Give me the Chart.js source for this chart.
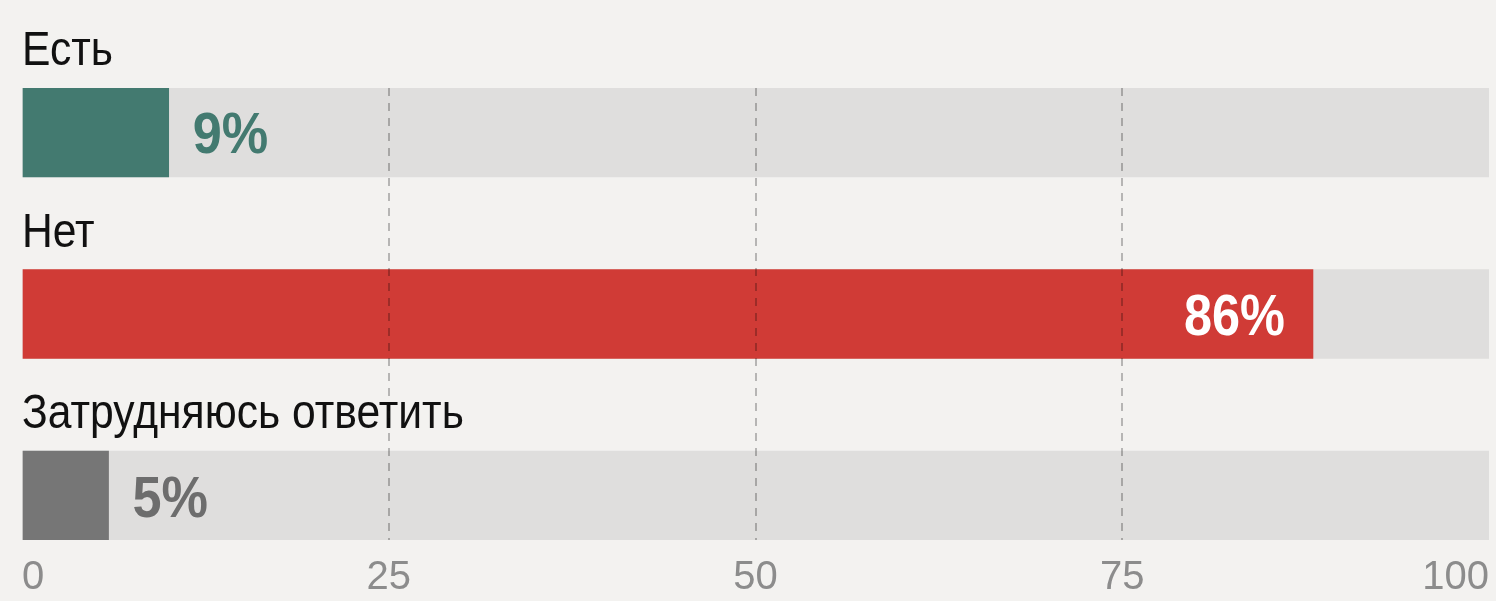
<!DOCTYPE html>
<html>
<head>
<meta charset="utf-8">
<script src="https://cdn.jsdelivr.net/npm/chart.js@4.4.1/dist/chart.umd.min.js"></script>
<style>
  html, body { margin: 0; padding: 0; background: #f3f2f0; overflow: hidden; }
  #wrap { position: relative; width: 1496px; height: 601px; }
  canvas { display: block; }
</style>
</head>
<body>
<div id="wrap"><canvas id="chart"></canvas></div>
<script>
// данные
const categories = ['Есть', 'Нет', 'Затрудняюсь ответить'];
const values = [10, 88, 5.9];          // длина полос по картинке
const valueLabels = ['9%', '86%', '5%'];
const trackValues = [100, 100, 100];
const tickValues = [0, 25, 50, 75, 100];

const barColors = ['#437a70', '#d03b36', '#767676'];
const labelColors = ['#437a70', '#ffffff', '#6d6d6d'];
const FONT = '"Liberation Sans", Arial, sans-serif';

// текст, сжатый по ширине (узкий шрифт недоступен)
function narrowText(ctx, text, x, y, sx) {
  ctx.save();
  ctx.translate(x, y);
  ctx.scale(sx, 1);
  ctx.fillText(text, 0, 0);
  ctx.restore();
}

// подписи категорий и значений
const labelsPlugin = {
  id: 'barLabels',
  afterDatasetsDraw(chart) {
    const ctx = chart.ctx;
    const meta = chart.getDatasetMeta(0);
    const left = chart.chartArea.left;
    ctx.save();
    ctx.textBaseline = 'alphabetic';
    meta.data.forEach((bar, i) => {
      const top = bar.y - bar.height / 2;
      // название над полосой
      ctx.font = '49px ' + FONT;
      ctx.fillStyle = '#111';
      ctx.textAlign = 'left';
      narrowText(ctx, categories[i], left, top - 23, 0.87);

      // процент
      ctx.font = 'bold 58px ' + FONT;
      ctx.fillStyle = labelColors[i];
      if (values[i] > 50) {
        ctx.textAlign = 'right';
        narrowText(ctx, valueLabels[i], bar.x - 28, bar.y + 21, 0.87);
      } else {
        ctx.textAlign = 'left';
        narrowText(ctx, valueLabels[i], bar.x + 24, bar.y + 21, 0.9);
      }
    });
    ctx.restore();
  }
};

const ctx = document.getElementById('chart').getContext('2d');
new Chart(ctx, {
  type: 'bar',
  data: {
    datasets: [{
      data: values.map((v, i) => ({ x: v, y: i })),
      backgroundColor: barColors,
      barThickness: 89,
      grouped: false,
      borderWidth: 0
    }, {
      data: trackValues.map((v, i) => ({ x: v, y: i })),
      backgroundColor: '#dfdedd',
      barThickness: 89,
      grouped: false,
      borderWidth: 0
    }]
  },
  options: {
    indexAxis: 'y',
    responsive: true,
    maintainAspectRatio: false,
    animation: false,
    layout: { padding: { top: 88, left: 22, right: 7, bottom: 0 } },
    plugins: {
      legend: { display: false },
      tooltip: { enabled: false }
    },
    scales: {
      y: {
        type: 'linear',
        reverse: true,
        offset: false,
        min: -0.245,
        max: 2.245,
        display: false
      },
      x: {
        type: 'linear',
        min: 0,
        max: 100,
        afterBuildTicks(scale) {
          scale.ticks = tickValues.map(v => ({ value: v }));
        },
        afterFit(scale) {
          scale.height = 61;
        },
        border: { display: false, dash: [8, 7] },
        grid: {
          z: 1,
          drawTicks: false,
          lineWidth: 2,
          color: c => (c.tick && (c.tick.value === 0 || c.tick.value === 100)) ? 'rgba(0,0,0,0)' : 'rgba(0,0,0,0.25)'
        },
        ticks: {
          align: 'inner',
          padding: 7,
          color: '#8c8c8c',
          font: { family: FONT, size: 40, lineHeight: 1.55 }
        }
      }
    }
  },
  plugins: [labelsPlugin]
});
</script>
</body>
</html>
